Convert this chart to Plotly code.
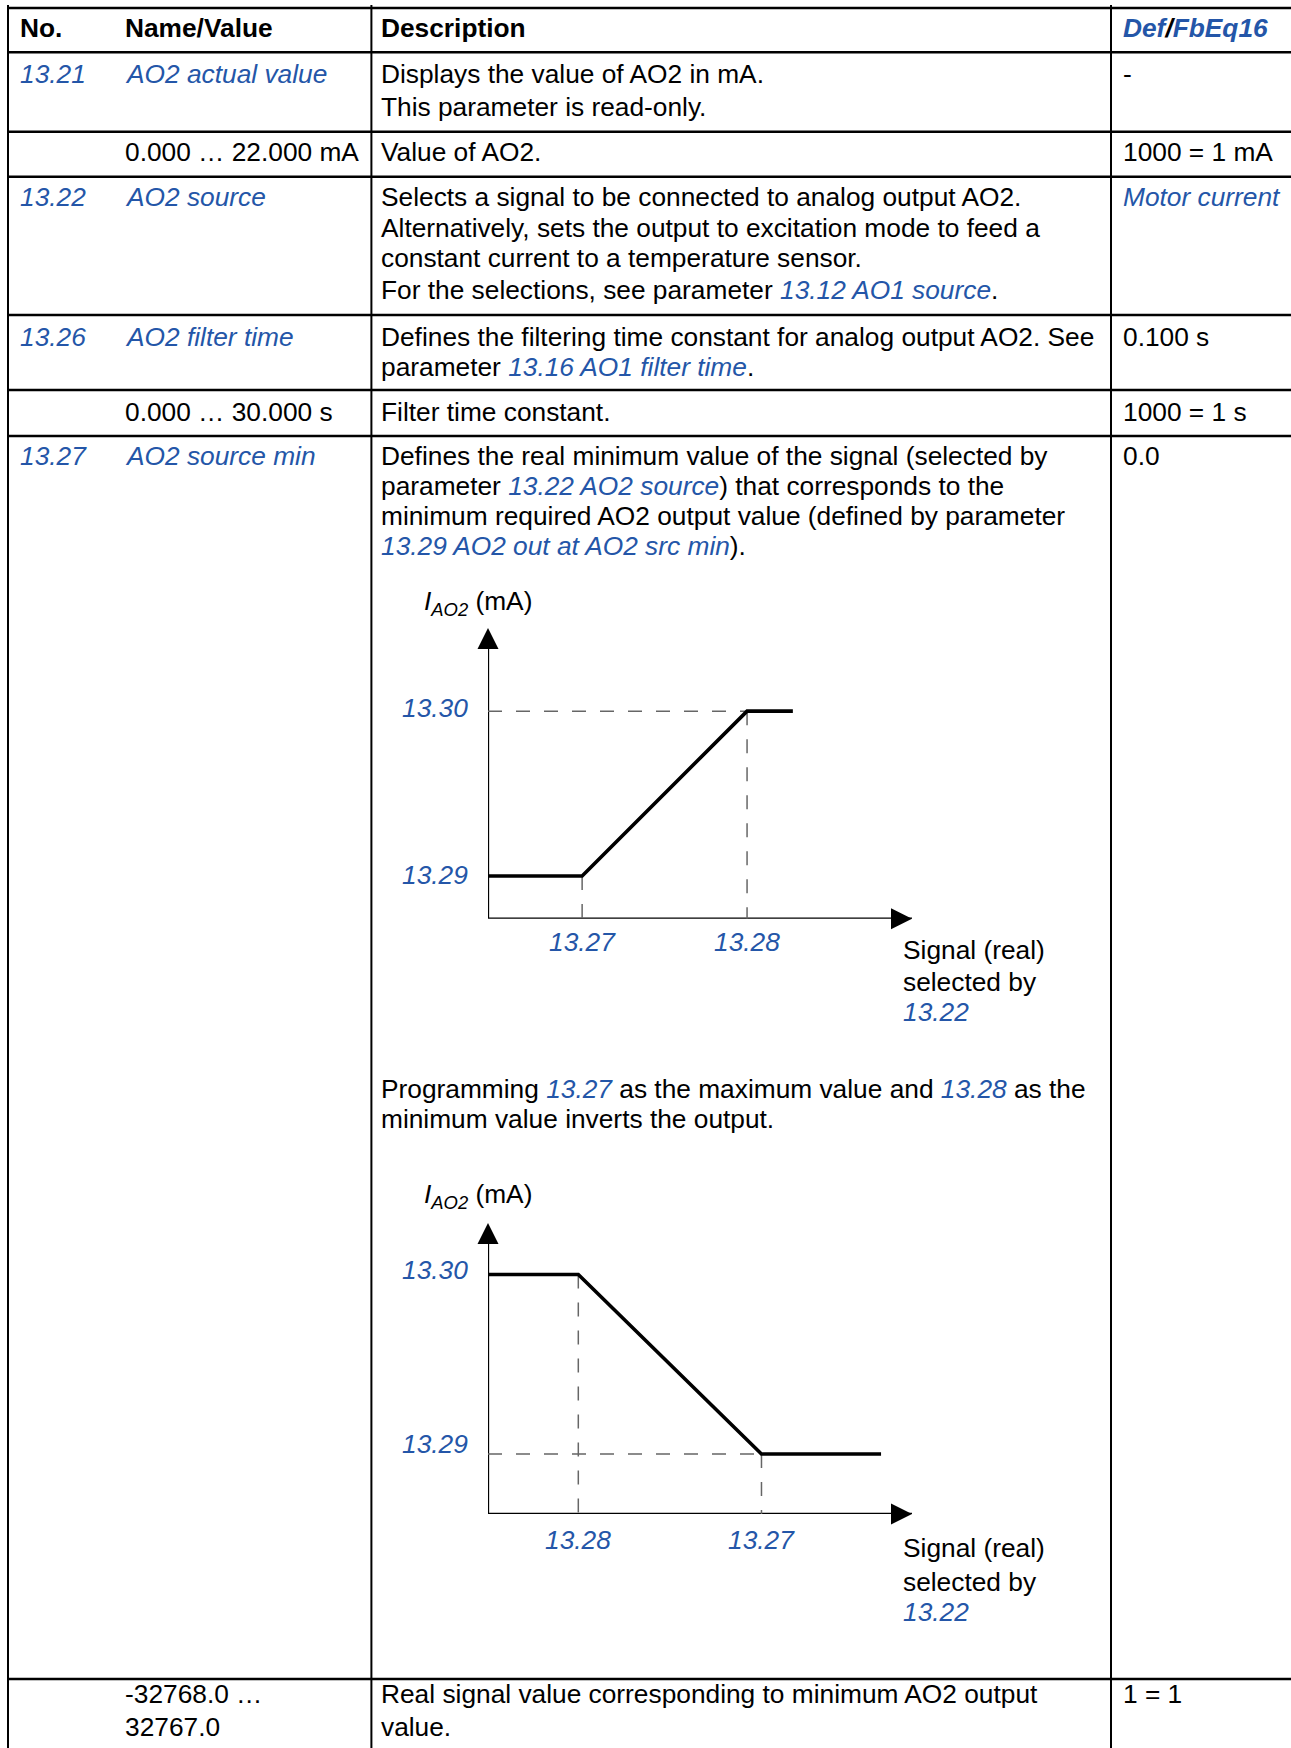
import plotly.graph_objects as go

# ---------------- data ----------------
header_cells = ["No.", "Name/Value", "Description"]
param_ids = ["13.21", "13.22", "13.26", "13.27"]
param_names = ["AO2 actual value", "AO2 source", "AO2 filter time", "AO2 source min"]
value_ranges = ["0.000 … 22.000 mA", "0.000 … 30.000 s", "-32768.0 …", "32767.0"]
defaults = ["-", "Motor current", "0.100 s", "0.0"]
scalings = ["1000 = 1 mA", "1000 = 1 s", "1 = 1"]

desc_1321 = ["Displays the value of AO2 in mA.", "This parameter is read-only."]
desc_1321_val = ["Value of AO2."]
desc_1322 = ["Selects a signal to be connected to analog output AO2.",
             "Alternatively, sets the output to excitation mode to feed a",
             "constant current to a temperature sensor.",
             "For the selections, see parameter {13.12 AO1 source}."]
desc_1326 = ["Defines the filtering time constant for analog output AO2. See",
             "parameter {13.16 AO1 filter time}."]
desc_1326_val = ["Filter time constant."]
desc_1327 = ["Defines the real minimum value of the signal (selected by",
             "parameter {13.22 AO2 source}) that corresponds to the",
             "minimum required AO2 output value (defined by parameter",
             "{13.29 AO2 out at AO2 src min})."]
desc_invert = ["Programming {13.27} as the maximum value and {13.28} as the",
               "minimum value inverts the output."]
desc_1327_val = ["Real signal value corresponding to minimum AO2 output", "value."]

# diagram data (schematic, % of axis length)
signal_normal = [0, 22.2, 61.1, 71.9]
output_normal = [14.7, 14.7, 71.4, 71.4]
ticks_normal_x = ["13.27", "13.28"]
signal_inverted = [0, 21.3, 64.5, 92.7]
output_inverted = [82.3, 82.3, 20.6, 20.6]
ticks_inverted_x = ["13.28", "13.27"]
ticks_y = ["13.29", "13.30"]
y_axis_title = "<i>I<sub>AO2</sub></i> (mA)"
x_axis_title = ["Signal (real)", "selected by", "{13.22}"]

# ---------------- layout helpers ----------------
W, H = 1291, 1748
BLUE = "#2456a8"
FONT = "Liberation Sans"
FS = 26.3
TY = 0  # vertical correction for text centring


def X(px):
    return px / W


def Y(py):
    return 1 - py / H


def link(s):
    return f"<i><span style='color:{BLUE}'>{s}</span></i>"


def fmt(s):
    out = ""
    while "{" in s:
        a = s.index("{")
        b = s.index("}")
        out += s[:a] + link(s[a + 1:b])
        s = s[b + 1:]
    return out + s


annotations = []
shapes = []


def text(x, y, s, xanchor="left"):
    annotations.append(dict(x=X(x), y=Y(y + TY), xref="paper", yref="paper", text=s,
                            showarrow=False, xanchor=xanchor, yanchor="middle",
                            font=dict(family=FONT, size=FS, color="black")))


def lines(x, ys, items):
    for yy, s in zip(ys, items):
        text(x, yy, fmt(s))


# ---------------- table grid ----------------
COLX = [18, 123, 379, 1121]
row_y = [8, 52.3, 131.7, 176.7, 315, 390, 436, 1679]
for yy in row_y:
    shapes.append(dict(type="line", xref="paper", yref="paper", x0=X(7.5), x1=X(1291),
                       y0=Y(yy), y1=Y(yy), line=dict(color="black", width=2.5)))
for xx in [8, 371.4, 1111]:
    shapes.append(dict(type="line", xref="paper", yref="paper", x0=X(xx), x1=X(xx),
                       y0=Y(5), y1=Y(1748), line=dict(color="black", width=2)))

# header
for cx, s in zip(COLX, header_cells):
    text(cx, 28, f"<b>{s}</b>")
text(COLX[3], 28, f"<b><i><span style='color:{BLUE}'>Def</span>/<span style='color:{BLUE}'>FbEq16</span></i></b>")

# row 13.21
text(COLX[0], 74, link(param_ids[0]))
text(COLX[1], 74, link(param_names[0]))
lines(COLX[2], [74, 107], desc_1321)
text(COLX[3], 74, defaults[0])
# value row
text(COLX[1], 152, value_ranges[0])
lines(COLX[2], [152], desc_1321_val)
text(COLX[3], 152, scalings[0])
# row 13.22
text(COLX[0], 197, link(param_ids[1]))
text(COLX[1], 197, link(param_names[1]))
lines(COLX[2], [197, 227.5, 257.5, 290], desc_1322)
text(COLX[3], 197, link(defaults[1]))
# row 13.26
text(COLX[0], 337, link(param_ids[2]))
text(COLX[1], 337, link(param_names[2]))
lines(COLX[2], [337, 367], desc_1326)
text(COLX[3], 337, defaults[2])
# value row
text(COLX[1], 411.5, value_ranges[1])
lines(COLX[2], [411.5], desc_1326_val)
text(COLX[3], 411.5, scalings[1])
# row 13.27
text(COLX[0], 456, link(param_ids[3]))
text(COLX[1], 456, link(param_names[3]))
lines(COLX[2], [456, 486, 516, 546], desc_1327)
text(COLX[3], 456, defaults[3])
lines(COLX[2], [1089, 1119], desc_invert)
# last value row
text(COLX[1], 1694, value_ranges[2])
text(COLX[1], 1727, value_ranges[3])
lines(COLX[2], [1694, 1727], desc_1327_val)
text(COLX[3], 1694, scalings[2])

# ---------------- diagrams ----------------
fig = go.Figure()

diagrams = [
    dict(xa="x", ya="y", sx=signal_normal, sy=output_normal,
         xticks=ticks_normal_x, title_y=603, sig_y=[950, 982, 1012],
         yshift_lab=[1, 3], xlab_shift=-23),
    dict(xa="x2", ya="y2", sx=signal_inverted, sy=output_inverted,
         xticks=ticks_inverted_x, title_y=1196, sig_y=[1548, 1582, 1612],
         yshift_lab=[10, 5], xlab_shift=-26),
]

for d in diagrams:
    sx, sy = d["sx"], d["sy"]
    common = dict(xaxis=d["xa"], yaxis=d["ya"], showlegend=False, hoverinfo="skip", cliponaxis=False)
    # axes
    fig.add_trace(go.Scatter(x=[0, 0, 100], y=[96, 0, 0], mode="lines",
                             line=dict(color="black", width=2.3), **common))
    fig.add_trace(go.Scatter(x=[0, 100], y=[100, 0], mode="markers",
                             marker=dict(symbol=["arrow-up", "arrow-right"], size=21, color="black",
                                         line=dict(width=0)), **common))
    # dashed guides from the break points
    gx, gy = [], []
    hi = max(sy)
    lo = min(sy)
    if sy[0] == lo:
        gx += [0, sx[2], None]; gy += [hi, hi, None]
    else:
        gx += [0, sx[2], None]; gy += [lo, lo, None]
    gx += [sx[1], sx[1], None, sx[2], sx[2]]
    gy += [sy[1], 0, None, sy[2], 0]
    fig.add_trace(go.Scatter(x=gx, y=gy, mode="lines",
                             line=dict(color="#666666", width=1.5, dash="14px,14px"), **common))
    # characteristic
    fig.add_trace(go.Scatter(x=sx, y=sy, mode="lines",
                             line=dict(color="black", width=3.6), **common))
    # tick labels
    for xv, lab in zip([sx[1], sx[2]], d["xticks"]):
        annotations.append(dict(x=xv, y=0, xref=d["xa"], yref=d["ya"], text=link(lab),
                                showarrow=False, xanchor="center", yanchor="middle",
                                yshift=d["xlab_shift"], font=dict(family=FONT, size=FS)))
    for yv, lab, ys in zip([lo, hi], ticks_y, d["yshift_lab"]):
        annotations.append(dict(x=0, y=yv, xref=d["xa"], yref=d["ya"], text=link(lab),
                                showarrow=False, xanchor="right", yanchor="middle",
                                xshift=-18, yshift=ys, font=dict(family=FONT, size=FS)))
    text(421.5, d["title_y"], y_axis_title)
    lines(900.5, d["sig_y"], x_axis_title)

fig.update_layout(
    width=W, height=H,
    margin=dict(l=0, r=0, t=0, b=0),
    paper_bgcolor="white", plot_bgcolor="rgba(0,0,0,0)",
    font=dict(family=FONT, size=FS, color="black"),
    xaxis=dict(domain=[X(488), X(912)], range=[0, 100], visible=False, fixedrange=True),
    yaxis=dict(domain=[Y(918.7), Y(628)], range=[0, 100], visible=False, fixedrange=True),
    xaxis2=dict(domain=[X(488), X(912)], range=[0, 100], visible=False, anchor="y2", fixedrange=True),
    yaxis2=dict(domain=[Y(1514), Y(1223)], range=[0, 100], visible=False, anchor="x2", fixedrange=True),
    annotations=annotations,
    shapes=shapes,
)

fig.write_html("out.html", config={"displayModeBar": False},
               post_script="document.body.style.margin='0px';document.body.style.overflow='hidden';")
